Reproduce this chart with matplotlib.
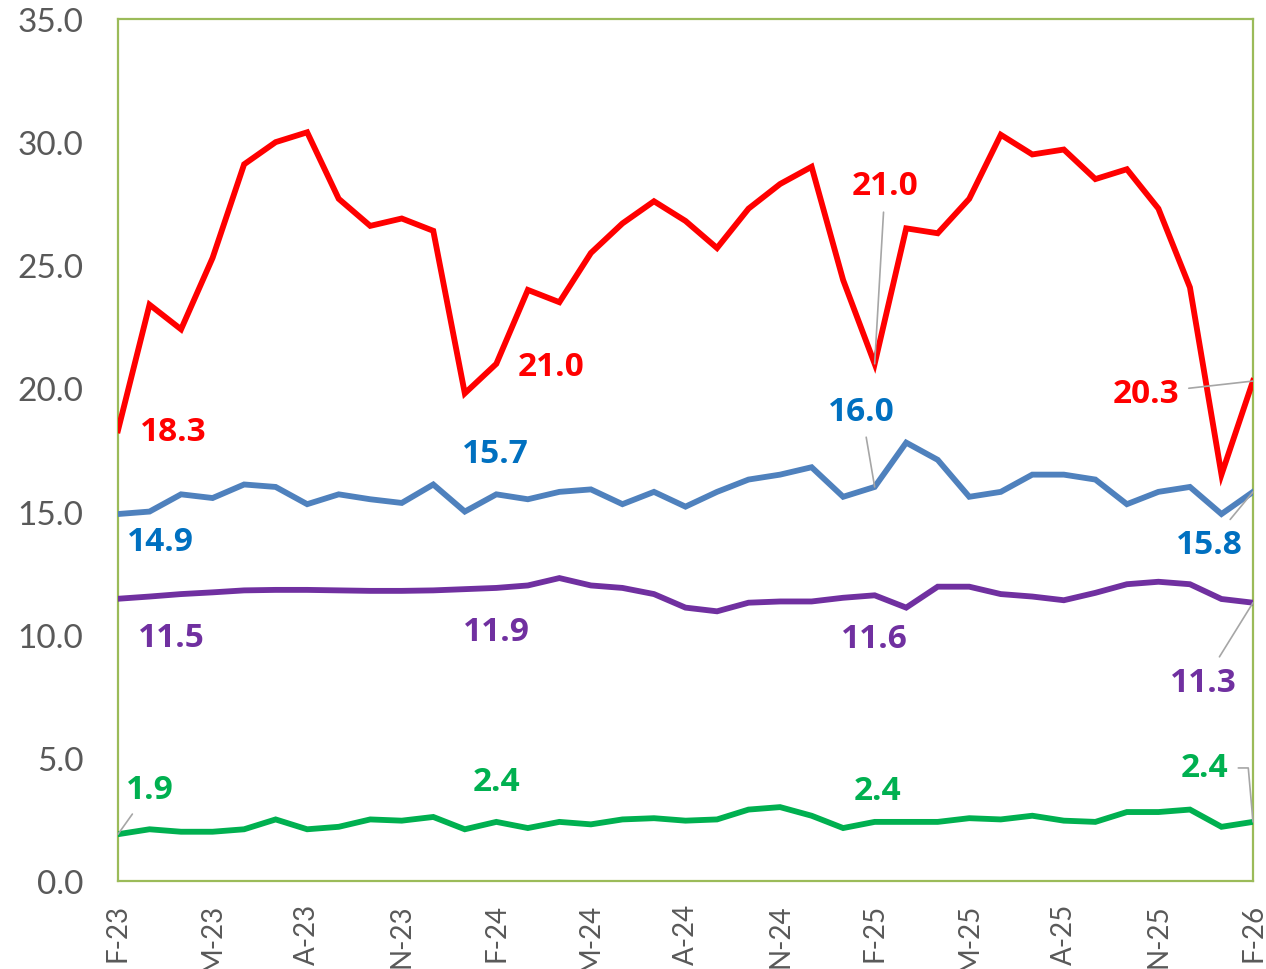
import matplotlib
matplotlib.use("Agg")
import matplotlib.pyplot as plt
import numpy as np

plt.rcParams['font.family'] = ['Lato', 'DejaVu Sans']

months = ['F-23','M-23','A-23','M-23','J-23','J-23','A-23','S-23','O-23','N-23','D-23',
          'J-24','F-24','M-24','A-24','M-24','J-24','J-24','A-24','S-24','O-24','N-24','D-24',
          'J-25','F-25','M-25','A-25','M-25','J-25','J-25','A-25','S-25','O-25','N-25','D-25',
          'J-26','F-26']

red = [18.3, 23.4, 22.4, 25.3, 29.1, 30.0, 30.4, 27.7, 26.6, 26.9, 26.4,
       19.8, 21.0, 24.0, 23.5, 25.5, 26.7, 27.6, 26.8, 25.7, 27.3, 28.3, 29.0,
       24.4, 21.0, 26.5, 26.3, 27.7, 30.3, 29.5, 29.7, 28.5, 28.9, 27.3, 24.1,
       16.5, 20.3]
blue = [14.9, 15.0, 15.7, 15.55, 16.1, 16.0, 15.3, 15.7, 15.5, 15.35, 16.1,
        15.0, 15.7, 15.5, 15.8, 15.9, 15.3, 15.8, 15.2, 15.8, 16.3, 16.5, 16.8,
        15.6, 16.0, 17.8, 17.1, 15.6, 15.8, 16.5, 16.5, 16.3, 15.3, 15.8, 16.0,
        14.9, 15.8]
purple = [11.46, 11.55, 11.65, 11.72, 11.8, 11.82, 11.82, 11.8, 11.78, 11.78, 11.8,
          11.85, 11.9, 12.0, 12.3, 12.0, 11.9, 11.65, 11.1, 10.95, 11.3, 11.35, 11.35,
          11.5, 11.6, 11.1, 11.95, 11.95, 11.65, 11.55, 11.4, 11.7, 12.05, 12.15, 12.05,
          11.45, 11.3]
green = [1.9, 2.1, 2.0, 2.0, 2.1, 2.5, 2.1, 2.2, 2.5, 2.45, 2.6,
         2.1, 2.4, 2.15, 2.4, 2.3, 2.5, 2.55, 2.45, 2.5, 2.9, 3.0, 2.65,
         2.15, 2.4, 2.4, 2.4, 2.55, 2.5, 2.65, 2.45, 2.4, 2.8, 2.8, 2.9,
         2.2, 2.4]

x = np.arange(len(months))

fig = plt.figure(figsize=(12.66, 9.70), dpi=100)
ax = fig.add_axes([118/1266, 88/970, (1253-118)/1266, (882-20)/970])

lw = 4.2
ax.plot(x, red, color='#FF0000', lw=lw, solid_joinstyle='miter', zorder=3)
ax.plot(x, blue, color='#4F81BD', lw=lw, solid_joinstyle='miter', zorder=3)
ax.plot(x, purple, color='#7030A0', lw=lw, solid_joinstyle='miter', zorder=3)
ax.plot(x, green, color='#00B050', lw=lw, solid_joinstyle='miter', zorder=3)

ax.set_xlim(0, len(months) - 1)
ax.set_ylim(0, 35)
ax.set_yticks(np.arange(0, 35.1, 5))
ax.set_yticklabels([f"{v:.1f}" for v in np.arange(0, 35.1, 5)])
ticks = x[::3]
ax.set_xticks(ticks)
ax.set_xticklabels([months[i] for i in ticks], rotation=90)
ax.tick_params(axis='both', length=0, colors='#595959')
ax.tick_params(axis='y', labelsize=24, pad=25)
ax.tick_params(axis='x', labelsize=20, pad=16)
for s in ax.spines.values():
    s.set_color('#9BBB59')
    s.set_linewidth(1.6)

lbl_fs = 24
lbl_family = ['Open Sans', 'DejaVu Sans']
series = [(red, '#FF0000'), (blue, '#0070C0'), (purple, '#7030A0'), (green, '#00B050')]
# (series index, point index, text x, text y, leader connection)
labels = [
    (0, 0, 1.75, 18.27, None), (0, 12, 13.73, 20.91, None),
    (0, 24, 24.33, 28.22, 'arc3'), (0, 36, 32.6, 19.81, 'arc3'),
    (1, 0, 1.33, 13.79, None), (1, 12, 11.96, 17.34, None),
    (1, 24, 23.59, 19.08, 'arc3'), (1, 36, 34.63, 13.68, 'arc3'),
    (2, 0, 1.68, 9.9, None), (2, 12, 11.99, 10.15, None),
    (2, 24, 24.0, 9.83, None), (2, 36, 34.44, 8.08, 'arc3'),
    (3, 0, 1.02, 3.73, 'arc3'), (3, 12, 11.99, 4.02, None),
    (3, 24, 24.1, 3.69, None), (3, 36, 34.47, 4.59, 'angle,angleA=0,angleB=95,rad=0'),
]
for si, pi, tx, ty, conn in labels:
    vals, col = series[si]
    kw = {}
    if conn:
        kw['arrowprops'] = dict(arrowstyle='-', color='#A6A6A6', lw=1.2,
                                shrinkA=5, shrinkB=0, connectionstyle=conn)
    ax.annotate(f"{vals[pi]:.1f}", xy=(pi, vals[pi]), xytext=(tx, ty),
                textcoords='data', ha='center', va='center', color=col,
                fontsize=lbl_fs, fontweight='bold', family=lbl_family,
                annotation_clip=False, zorder=4, **kw)

fig.savefig('out.png', dpi=100)
